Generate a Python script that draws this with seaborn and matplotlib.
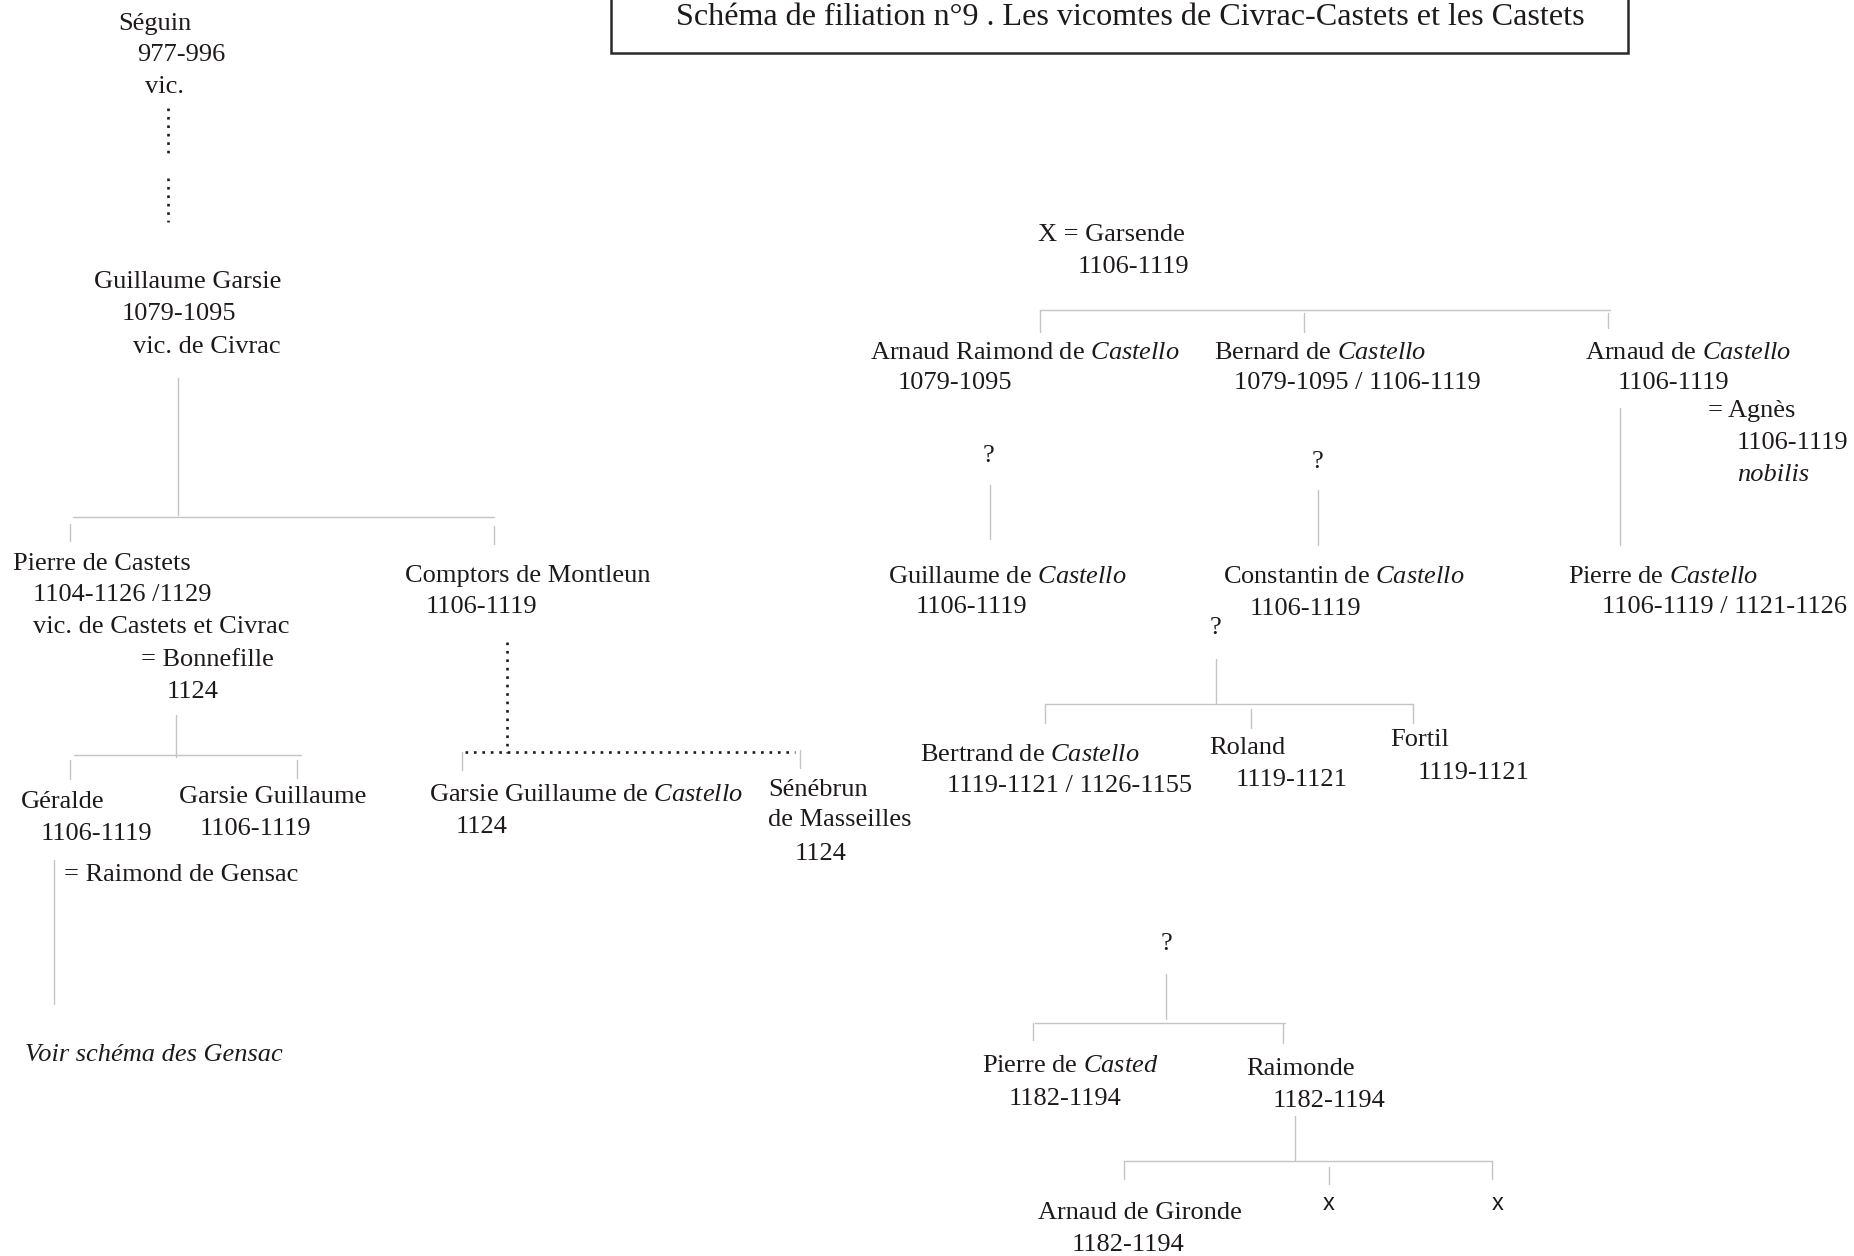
import matplotlib
matplotlib.use("Agg")
import matplotlib.pyplot as plt
import seaborn as sns
import pandas as pd

# ---------------- data ----------------
TITLE = "Schéma de filiation n°9 . Les vicomtes de Civrac-Castets et les Castets"

# text lines of the family tree (roman text, $\mathit{..}$ marks italic parts)
labels = [
    "Séguin", "977-996", "vic.",
    "Guillaume Garsie", "1079-1095", "vic. de Civrac",
    "Pierre de Castets", "1104-1126 /1129", "vic. de Castets et Civrac", "= Bonnefille", "1124",
    "Géralde", "1106-1119", "Garsie Guillaume", "1106-1119", "= Raimond de Gensac",
    "Comptors de Montleun", "1106-1119",
    r"Garsie Guillaume de $\mathit{Castello}$", "1124",
    "Sénébrun", "de Masseilles", "1124",
    "X = Garsende", "1106-1119",
    r"Arnaud Raimond de $\mathit{Castello}$", "1079-1095",
    r"Bernard de $\mathit{Castello}$", "1079-1095 / 1106-1119",
    r"Arnaud de $\mathit{Castello}$", "1106-1119", "= Agnès", "1106-1119",
    "?", "?",
    r"Guillaume de $\mathit{Castello}$", "1106-1119",
    r"Constantin de $\mathit{Castello}$", "1106-1119", "?",
    r"Pierre de $\mathit{Castello}$", "1106-1119 / 1121-1126",
    r"Bertrand de $\mathit{Castello}$", "1119-1121 / 1126-1155",
    "Roland", "1119-1121", "Fortil", "1119-1121",
    "?",
    r"Pierre de $\mathit{Casted}$", "1182-1194", "Raimonde", "1182-1194",
    "Arnaud de Gironde", "1182-1194",
]
# left x / baseline y of each label (pixels of the 1854x1256 page)
label_x = [118, 137, 145, 94, 122, 133, 13, 33, 33, 141, 167,
           21, 41, 179, 200, 64, 405, 426, 429, 456, 768, 768, 795,
           1038, 1078, 870, 898, 1214, 1234, 1585, 1618, 1708, 1737,
           983, 1312, 888, 916, 1223, 1250, 1210, 1568, 1602,
           920, 947, 1209, 1236, 1390, 1418, 1161,
           982, 1009, 1246, 1273, 1038, 1072]
label_y = [30, 61, 93, 288, 320, 353, 570, 601, 633, 666, 698,
           808, 840, 803, 835, 881, 582, 613, 801, 833, 796, 826, 860,
           241, 273, 359, 389, 359, 389, 359, 389, 417, 449,
           462, 468, 583, 613, 583, 615, 634, 583, 613,
           761, 792, 754, 786, 746, 779, 950,
           1072, 1105, 1075, 1107, 1219, 1251]

italic_labels = ["Voir schéma des Gensac", "nobilis"]
italic_x = [25, 1737]
italic_y = [1061, 481]

cross_labels = ["x", "x"]
cross_x = [1323, 1492]
cross_y = [1210, 1210]

# solid connector segments (x0, y0, x1, y1)
solid_x0 = [178, 73, 70, 494, 176, 74, 70, 297, 54, 462, 800,
            1040, 1040, 1304, 1608, 990, 1318, 1620, 1216, 1045, 1045, 1251, 1413,
            1166, 1035, 1033, 1283, 1295, 1124, 1124, 1329, 1492]
solid_y0 = [378, 517, 524, 526, 715, 755, 760, 760, 860, 752, 750,
            310, 310, 313, 313, 485, 490, 408, 659, 704, 704, 709, 704,
            974, 1023, 1023, 1024, 1116, 1161, 1161, 1167, 1161]
solid_x1 = [178, 494, 70, 494, 176, 301, 70, 297, 54, 462, 800,
            1610, 1040, 1304, 1608, 990, 1318, 1620, 1216, 1413, 1045, 1251, 1413,
            1166, 1285, 1033, 1283, 1295, 1492, 1124, 1329, 1492]
solid_y1 = [515, 517, 541, 544, 757, 755, 779, 778, 1004, 770, 768,
            310, 332, 332, 328, 539, 545, 545, 704, 704, 723, 728, 723,
            1019, 1023, 1040, 1043, 1160, 1161, 1179, 1184, 1179]

# dotted (uncertain) filiation segments
dot_x0 = [168, 168, 507, 465]
dot_y0 = [108, 178, 642, 752]
dot_x1 = [168, 168, 507, 795]
dot_y1 = [153, 222, 753, 752]

# ---------------- styling ----------------
sns.set_theme(style="white")
plt.rcParams["font.family"] = ["Liberation Serif", "DejaVu Serif"]
plt.rcParams["mathtext.fontset"] = "custom"
plt.rcParams["mathtext.rm"] = "Liberation Serif"
plt.rcParams["mathtext.it"] = "Liberation Serif:italic"

W, H = 1854, 1256
fig = plt.figure(figsize=(W / 100, H / 100), dpi=100)
fig.patch.set_facecolor("white")
ax = fig.add_axes([0, 0, 1, 1])
ax.set_facecolor("white")

TXT = "#1e1a1b"
LINE = "#c4c4c4"


def seg_frame(x0, y0, x1, y1):
    rows = []
    for i, (a, b, c, d) in enumerate(zip(x0, y0, x1, y1)):
        rows.append({"seg": i, "order": 0, "x": a, "y": b})
        rows.append({"seg": i, "order": 1, "x": c, "y": d})
    return pd.DataFrame(rows)


solid_df = seg_frame(solid_x0, solid_y0, solid_x1, solid_y1)
dot_df = seg_frame(dot_x0, dot_y0, dot_x1, dot_y1)

sns.lineplot(data=solid_df, x="x", y="y", units="seg", estimator=None,
             sort=False, color=LINE, linewidth=1.0, ax=ax)
n_before = len(ax.lines)
sns.lineplot(data=dot_df, x="x", y="y", units="seg", estimator=None,
             sort=False, color=TXT, linewidth=1.9, ax=ax)
for ln in ax.lines[n_before:]:
    ln.set_linestyle((0, (1, 2.2)))
    ln.set_dash_capstyle("butt")

# title box
ax.add_patch(plt.Rectangle((611, -10), 1628 - 611, 53 + 10, fill=False,
                           edgecolor="#2a2a2a", linewidth=1.8, zorder=3))
ax.text(676, 25, TITLE, fontsize=23.1, color=TXT, ha="left", va="baseline")

for s, x, y in zip(labels, label_x, label_y):
    ax.text(x, y, s, fontsize=19, color=TXT, ha="left", va="baseline")
for s, x, y in zip(italic_labels, italic_x, italic_y):
    ax.text(x, y, s, fontsize=19, color=TXT, style="italic", ha="left", va="baseline")
for s, x, y in zip(cross_labels, cross_x, cross_y):
    ax.text(x, y, s, fontsize=17, color=TXT, family="Liberation Sans",
            ha="left", va="baseline")

ax.set_xlim(0, W)
ax.set_ylim(H, 0)
ax.set_axis_off()

fig.savefig("out.png", dpi=100, facecolor="white")
